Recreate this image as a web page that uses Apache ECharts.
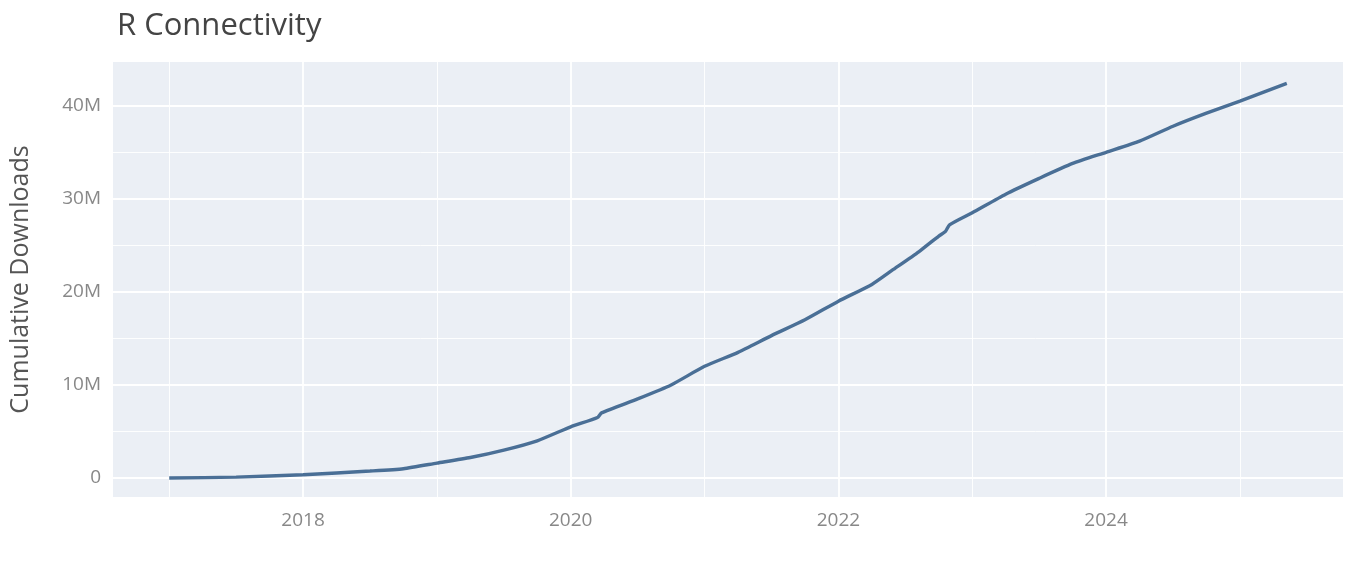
<!DOCTYPE html>
<html><head><meta charset="utf-8">
<script src="https://cdn.jsdelivr.net/npm/echarts@6/dist/echarts.min.js"></script>
<style>html,body{margin:0;padding:0;background:#fff}#c{width:1366px;height:585px}</style>
</head><body><div id="c"></div>
<script>
const years = [2017.0,2017.5,2018.0,2018.5,2018.75,2019.0,2019.25,2019.5,2019.75,2020.0,2020.2,2020.23,2020.5,2020.75,2021.0,2021.25,2021.5,2021.75,2022.0,2022.25,2022.4,2022.6,2022.75,2022.8,2022.83,2023.0,2023.25,2023.5,2023.75,2024.0,2024.25,2024.5,2024.75,2025.0,2025.35];
const downloadsM = [0,0.1,0.35,0.75,1.0,1.6,2.2,3.0,4.0,5.5,6.5,7.0,8.5,10.0,12.0,13.5,15.3,17.0,19.0,20.8,22.3,24.3,26.0,26.5,27.2,28.5,30.5,32.2,33.8,35.0,36.2,37.8,39.2,40.5,42.4];
const xMajor = [2018,2020,2022,2024];
const xMinor = [2017,2019,2021,2023,2025];
const yMajor = [0,10,20,30,40];
const yMinor = [5,15,25,35];
const yLabels = ['0','10M','20M','30M','40M'];
const font = 'Open Sans';
const gl = (arr, axis, w) => arr.map(v => ({[axis]: v, lineStyle:{color:'#fff', width:w, type:'solid'}}));
const chart = echarts.init(document.getElementById('c'));
chart.setOption({
  animation:false,
  title:{text:'R Connectivity', left:112, top:6, textStyle:{fontFamily:font, fontSize:31, fontWeight:'normal', color:'#444'}},
  grid:{left:113, right:23, top:62, bottom:88, backgroundColor:'#ebeff5', show:true, borderWidth:0},
  xAxis:{type:'value', min:2016.58, max:2025.77,
    axisLine:{show:false}, axisTick:{show:false}, splitLine:{show:false},
    axisLabel:{customValues:xMajor, formatter:v=>String(Math.round(v)), color:'#888', fontFamily:font, fontSize:19, margin:14}},
  yAxis:{type:'value', min:-2.04, max:44.7, name:'Cumulative Downloads', nameLocation:'middle', nameGap:80,
    nameTextStyle:{fontFamily:font, fontSize:25, color:'#555'},
    axisLine:{show:false}, axisTick:{show:false}, splitLine:{show:false},
    axisLabel:{customValues:yMajor, formatter:v=>yLabels[yMajor.indexOf(Math.round(v))], color:'#888', fontFamily:font, fontSize:19, margin:12}},
  series:[{type:'line', data:years.map((y,i)=>[y,downloadsM[i]]), showSymbol:false, smooth:0.2,
    lineStyle:{color:'#4a6f96', width:3.4}, z:5,
    markLine:{silent:true, symbol:'none', label:{show:false}, z:1,
      data:[...gl(xMajor,'xAxis',1.8),...gl(xMinor,'xAxis',0.9),...gl(yMajor,'yAxis',1.8),...gl(yMinor,'yAxis',0.9)]}}]
});
</script></body></html>
